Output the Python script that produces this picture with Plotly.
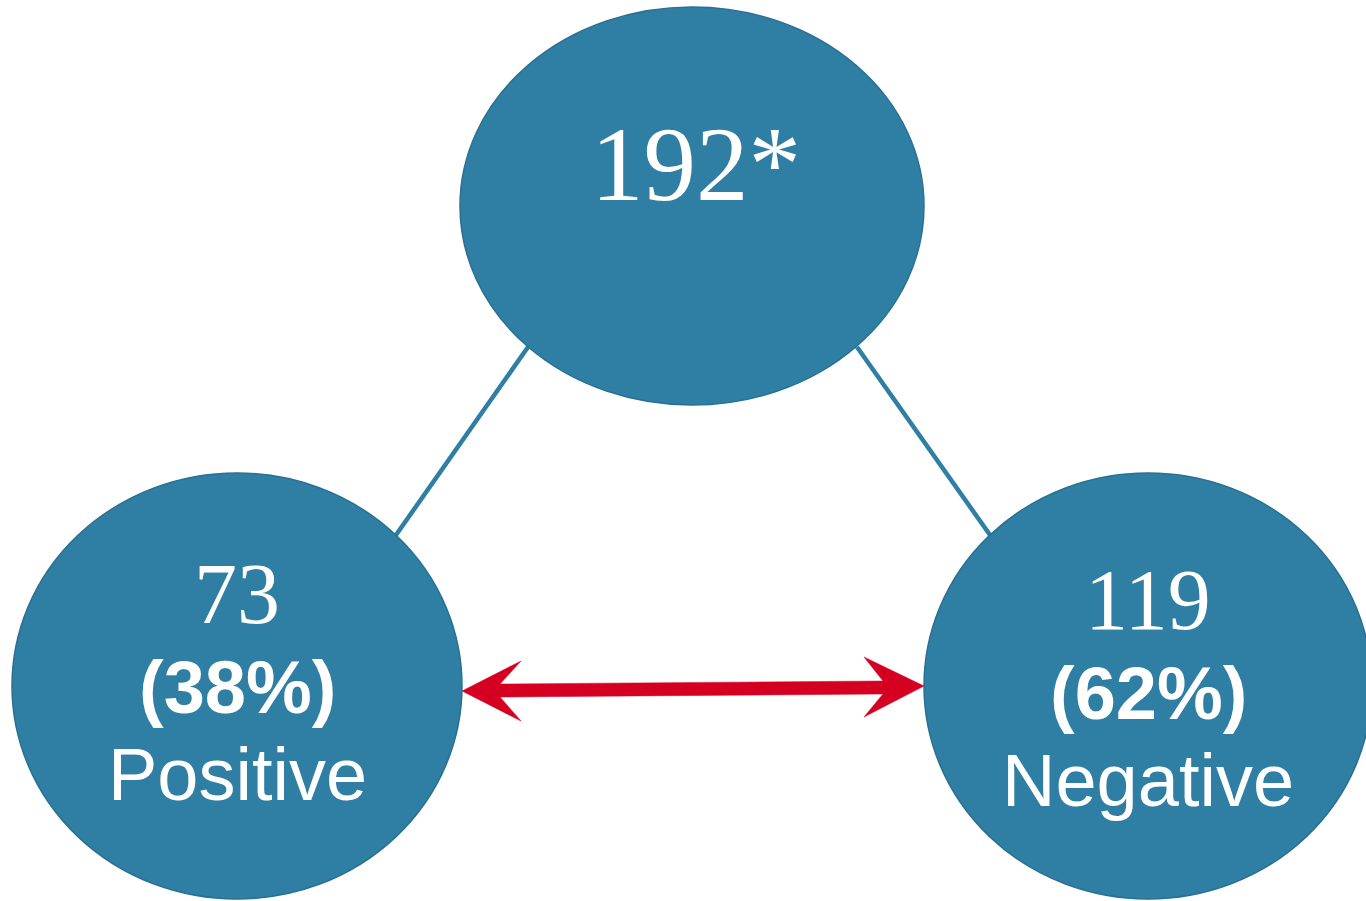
import plotly.graph_objects as go

# values shown in the diagram
total_label = "192*"
group_names = ["Positive", "Negative"]
group_counts = [73, 119]
group_pcts = [38, 62]

# layout (pixel space, y grows downward)
W, H = 1366, 901
node_fill = "#2E7FA3"
node_edge = "#2A7094"
arrow_red = "#D50021"

top_node = dict(cx=692, cy=206, rx=232, ry=199)
side_nodes = [
    dict(cx=237, cy=686, rx=225, ry=213),
    dict(cx=1148, cy=686, rx=224, ry=213),
]

fig = go.Figure()

shapes = []

# connector lines from the top node to each side node
connectors = [((528, 347), (396, 535)), ((857, 347), (990, 535))]
for (x0, y0), (x1, y1) in connectors:
    shapes.append(dict(type="line", xref="x", yref="y", x0=x0, y0=y0, x1=x1, y1=y1,
                       line=dict(color=node_fill, width=4.5)))

# ellipses
for n in [top_node] + side_nodes:
    shapes.append(dict(type="circle", xref="x", yref="y",
                       x0=n["cx"] - n["rx"], x1=n["cx"] + n["rx"],
                       y0=n["cy"] - n["ry"], y1=n["cy"] + n["ry"],
                       fillcolor=node_fill, line=dict(color=node_edge, width=1.5)))

# double headed red arrow between the side nodes
arrow_pts = [
    (462, 691), (521, 661), (500, 684), (883, 681), (864, 657), (924, 686),
    (864, 717), (883, 694), (500, 697), (521, 721),
]
path = "M " + " L ".join(f"{x},{y}" for x, y in arrow_pts) + " Z"
shapes.append(dict(type="path", xref="x", yref="y", path=path,
                   fillcolor=arrow_red, line=dict(color=arrow_red, width=0.5)))

annotations = []


def label(x, y, text, size, family, bold=False):
    annotations.append(dict(
        x=x, y=y, xref="x", yref="y", text=f"<b>{text}</b>" if bold else text,
        showarrow=False, xanchor="center", yanchor="middle",
        font=dict(family=family, size=size, color="white"),
    ))


serif = "Liberation Serif, DejaVu Serif, serif"
sans = "Liberation Sans, Arial, sans-serif"

label(top_node["cx"] + 4, 164, total_label, 105, serif)
for n, name, cnt, pct in zip(side_nodes, group_names, group_counts, group_pcts):
    dy = 0 if name == "Positive" else 6
    label(n["cx"], 594 + dy, str(cnt), 86, serif)
    label(n["cx"], 687 + dy, f"({pct}%)", 74, sans, bold=True)
    label(n["cx"], 774 + dy, name, 74, sans)

fig.update_layout(
    width=W, height=H,
    margin=dict(l=0, r=0, t=0, b=0),
    paper_bgcolor="white", plot_bgcolor="white",
    xaxis=dict(range=[0, W], visible=False, fixedrange=True),
    yaxis=dict(range=[H, 0], visible=False, fixedrange=True),
    shapes=shapes, annotations=annotations,
    showlegend=False,
)

fig.write_html("out.html", config={"displayModeBar": False},
               post_script="document.body.style.margin='0';")
